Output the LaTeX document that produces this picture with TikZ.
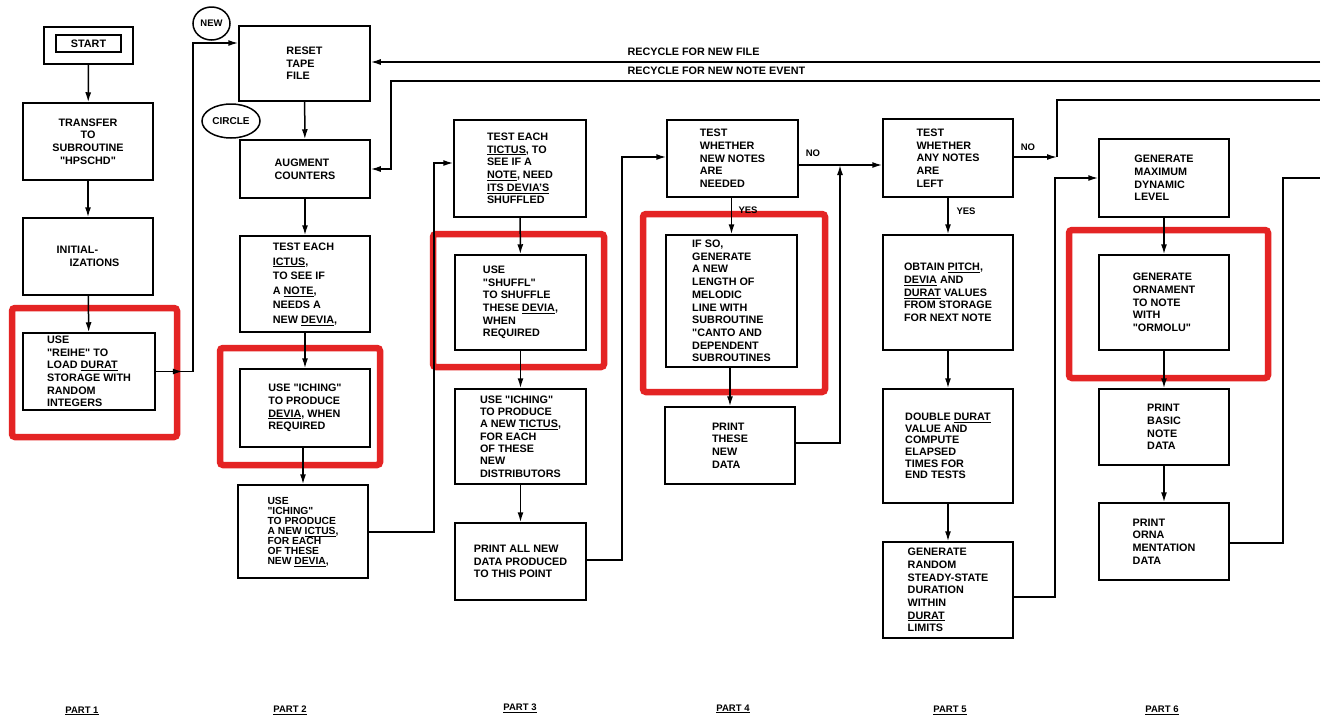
\documentclass[tikz,border=0pt]{standalone}
\usepackage{fontspec}
\setmainfont{Liberation Sans}
\newfontfamily\plainquote{Liberation Sans}[Ligatures=TeXOff]
\usetikzlibrary{arrows.meta,decorations.markings,shapes.geometric}
\definecolor{hlred}{RGB}{228,36,36}
\newcommand\uln[1]{\raisebox{0pt}[\height][0pt]{\underline{#1}}}
\newcommand\qq{{\plainquote\bfseries"}}
\newcommand\boxfont[2]{\bfseries\fontsize{#1}{#2}\selectfont}
\begin{document}
\begin{tikzpicture}[x=1pt,y=-1pt,
  every node/.style={font=\boxfont{10.8}{12.7}},
  sp/.style={font=\boxfont{10.8}{#1}},
  sz/.style n args={2}{minimum width=#1pt,minimum height=#2pt},
  box/.style={draw,line width=1.5pt,align=left,inner sep=0pt},
  hl/.style={draw=hlred,line width=6.5pt,rounded corners=3pt,inner sep=0pt},
  conn/.style={line width=1.5pt},
  arr/.style={conn,-{Latex[length=10pt,width=6pt]}},
  midarr/.style={postaction={decorate},decoration={markings,
      mark=at position #1 with {\arrow{Latex[length=10pt,width=6pt]}}}},
  small/.style={font=\boxfont{9.5}{11}},
  partlbl/.style={font=\boxfont{9.5}{11}},
]
\useasboundingbox (0,0) rectangle (1323,721);
\fill[white] (0,0) rectangle (1323,721);

% highlight frames
\node[hl,sz={165}{129}] (hl1) at (94.5,372.5) {};
\node[hl,sz={160}{117}] (hl2) at (300,406.5) {};
\node[hl,sz={171}{133}] (hl3) at (518.5,300.5) {};
\node[hl,sz={182}{178}] (hl4) at (734,303) {};
\node[hl,sz={199}{148}] (hl5) at (1168.5,304) {};

% part 1
\node[box,sz={89}{37}] (startframe) at (88.5,45.5) {};
\node[box,sz={65}{17},align=center] (start) at (88.5,43.5) {START};
\node[box,sz={130}{77},align=center] (transfer) at (88,141.5) {TRANSFER\\TO\\SUBROUTINE\\\qq HPSCHD\qq};
\node[box,sz={130}{77}] (init) at (88,256.5) {INITIAL-\\\hspace*{13pt}IZATIONS};
\node[box,sz={132}{77},sp=12.6] (reihe) at (89,371.5) {USE\\\qq REIHE\qq{} TO\\LOAD \uln{DURAT}\\STORAGE WITH\\RANDOM\\INTEGERS};

% part 2
\node[draw,line width=1.5pt,ellipse,minimum width=37pt,minimum height=33pt,inner sep=0pt,small] (newmark) at (211.5,23.5) {NEW};
\node[draw,line width=1.5pt,ellipse,minimum width=58pt,minimum height=34pt,inner sep=0pt,font=\boxfont{10}{12}] (circlemark) at (231,121) {CIRCLE};
\node[box,sz={131}{75}] (reset) at (304.5,63.5) {RESET\\TAPE\\FILE};
\node[box,sz={130}{58}] (augment) at (305,169) {AUGMENT\\COUNTERS};
\node[box,sz={130}{96},sp=14.6] (ictus) at (305,284) {TEST EACH\\\uln{ICTUS},\\TO SEE IF\\A \uln{NOTE},\\NEEDS A\\NEW \uln{DEVIA},};
\node[box,sz={130}{78}] (iching1) at (305,408) {USE \qq ICHING\qq\\TO PRODUCE\\\uln{DEVIA}, WHEN\\REQUIRED};
\node[box,sz={130}{93},font=\boxfont{10.3}{10}] (iching2) at (303,531.5) {USE\\\qq ICHING\qq\\TO PRODUCE\\A NEW \uln{ICTUS},\\FOR EACH\\OF THESE\\NEW \uln{DEVIA},};

% part 3
\node[box,sz={132}{97}] (tictus) at (520,168.5) {TEST EACH\\\uln{TICTUS}, TO\\SEE IF A\\\uln{NOTE}, NEED\\\uln{ITS DEVIA'S}\\SHUFFLED};
\node[box,sz={131}{95}] (shuffl) at (520.5,302.5) {USE\\\qq SHUFFL\qq\\TO SHUFFLE\\THESE \uln{DEVIA},\\WHEN\\REQUIRED};
\node[box,sz={131}{95},sp=12.3] (iching3) at (520.5,436.5) {USE \qq ICHING\qq\\TO PRODUCE\\A NEW \uln{TICTUS},\\FOR EACH\\OF THESE\\NEW\\DISTRIBUTORS};
\node[box,sz={131}{77}] (printall) at (520.5,561.5) {PRINT ALL NEW\\DATA PRODUCED\\TO THIS POINT};

% part 4
\node[box,sz={131}{77}] (test4) at (732.5,158.5) {TEST\\WHETHER\\NEW NOTES\\ARE\\NEEDED};
\node[box,sz={131}{132}] (canto) at (731.5,301) {IF SO,\\GENERATE\\A NEW\\LENGTH OF\\MELODIC\\LINE WITH\\SUBROUTINE\\\qq CANTO AND\\DEPENDENT\\SUBROUTINES};
\node[box,sz={130}{77}] (print4) at (730,445.5) {PRINT\\THESE\\NEW\\DATA};

% part 5
\node[box,sz={130}{78}] (test5) at (948,158) {TEST\\WHETHER\\ANY NOTES\\ARE\\LEFT};
\node[box,sz={130}{115}] (obtain) at (948,292.5) {OBTAIN \uln{PITCH},\\\uln{DEVIA} AND\\\uln{DURAT} VALUES\\FROM STORAGE\\FOR NEXT NOTE};
\node[box,sz={130}{114},sp=11.6] (double) at (948,446) {DOUBLE \uln{DURAT}\\VALUE AND\\COMPUTE\\ELAPSED\\TIMES FOR\\END TESTS};
\node[box,sz={130}{96}] (random) at (948,590) {GENERATE\\RANDOM\\STEADY-STATE\\DURATION\\WITHIN\\\uln{DURAT}\\LIMITS};

% part 6
\node[box,sz={130}{78}] (genmax) at (1164,178) {GENERATE\\MAXIMUM\\DYNAMIC\\LEVEL};
\node[box,sz={130}{95}] (ormolu) at (1164,302.5) {GENERATE\\ORNAMENT\\TO NOTE\\WITH\\\qq ORMOLU\qq};
\node[box,sz={130}{76}] (printbasic) at (1164,427) {PRINT\\BASIC\\NOTE\\DATA};
\node[box,sz={130}{77}] (printorna) at (1164,541.5) {PRINT\\ORNA\\MENTATION\\DATA};

% routing points
\coordinate (r1) at (193,43);
\coordinate (r2a) at (434,532);
\coordinate (r2) at (434,163);
\coordinate (r3) at (622,157);
\coordinate (r4a) at (840,443);
\coordinate (r4) at (840,165);
\coordinate (r5) at (1057,157);
\coordinate (r5b) at (1057,100);
\coordinate (r5c) at (1320,100);
\coordinate (r6a) at (1055,597);
\coordinate (r6) at (1055,178);
\coordinate (r7a) at (1283,543);
\coordinate (r7) at (1283,178);
\coordinate (r7b) at (1320,178);
\coordinate (fileend) at (1320,62);
\coordinate (noteend) at (1320,81);
\coordinate (notecorner) at (391,81);

% vertical flow
\draw[arr] (startframe) -- (transfer);
\draw[arr] (transfer) -- (init);
\draw[arr] (init) -- (reihe);
\draw[arr] (reset) -- (augment);
\draw[arr] (augment) -- (ictus);
\draw[arr] (ictus) -- (iching1);
\draw[arr] (iching1.south -| iching2.north) -- (iching2.north);
\draw[arr] (tictus) -- (shuffl);
\draw[arr] (shuffl) -- (iching3);
\draw[arr] (iching3) -- (printall);
\draw[arr] (test4.south -| canto.north) -- (canto.north);
\draw[arr] (canto.south -| print4.north) -- (print4.north);
\draw[arr] (test5) -- (obtain);
\draw[arr] (obtain) -- (double);
\draw[arr] (double) -- (random);
\draw[arr] (genmax) -- (ormolu);
\draw[arr] (ormolu) -- (printbasic);
\draw[arr] (printbasic) -- (printorna);

% links between parts
\draw[arr,midarr=27pt] (reihe.east) -| (r1) -- (reset.west |- r1);
\draw[arr] (iching2.east |- r2a) -- (r2a) -- (r2) -- (tictus.west |- r2);
\draw[arr] (printall.east |- 0,560) -| (r3) -- (test4.west |- r3);
\draw[arr] (test4.east |- r4) -- (test5.west |- r4);
\draw[arr] (print4.east |- r4a) -- (r4a) -- (r4);
\draw[arr] (test5.east |- r5) -- (r5);
\draw[conn] (r5) -- (r5b) -- (r5c);
\draw[arr] (random.east |- r6a) -- (r6a) -- (r6) -- (genmax.west |- r6);
\draw[conn] (printorna.east |- r7a) -- (r7a) -- (r7) -- (r7b);

% recycle lines
\draw[arr] (fileend) -- (reset.east |- fileend);
\draw[arr] (noteend) -- (notecorner) |- (augment.east);

% labels
\node[anchor=west] (lblfile) at (624,52) {RECYCLE FOR NEW FILE};
\node[anchor=west] (lblnote) at (624,71) {RECYCLE FOR NEW NOTE EVENT};
\node[small] (no4) at (813,153) {NO};
\node[small] (yes4) at (748,210) {YES};
\node[small] (no5) at (1028,147) {NO};
\node[small] (yes5) at (966,211) {YES};

\node[partlbl] (part1) at (82,710) {\uln{PART 1}};
\node[partlbl] (part2) at (290,709) {\uln{PART 2}};
\node[partlbl] (part3) at (520,707) {\uln{PART 3}};
\node[partlbl] (part4) at (733,708) {\uln{PART 4}};
\node[partlbl] (part5) at (950,709) {\uln{PART 5}};
\node[partlbl] (part6) at (1162,709) {\uln{PART 6}};
\end{tikzpicture}
\end{document}
